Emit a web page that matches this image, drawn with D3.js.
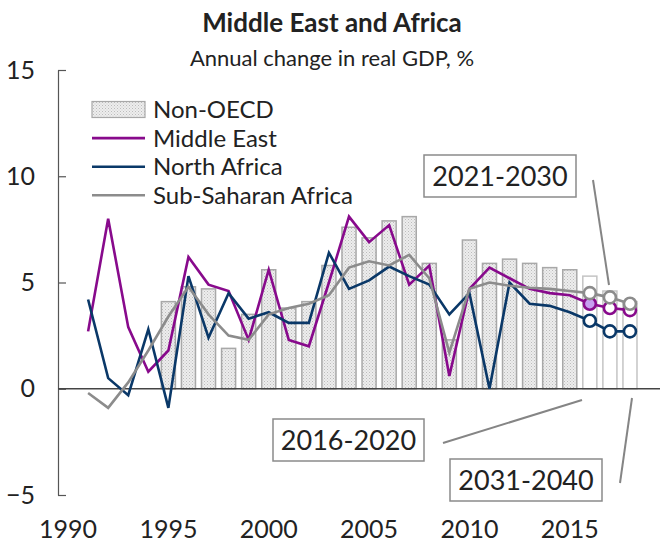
<!DOCTYPE html>
<html>
<head>
<meta charset="utf-8">
<script src="https://cdn.jsdelivr.net/npm/d3@7"></script>
<style>
  html, body { margin: 0; padding: 0; background: #fff; }
  svg { display: block; font-family: Lato, "Open Sans", sans-serif; }
</style>
</head>
<body>
<svg id="chart" width="660" height="545"></svg>
<script>
// Categories: yearly history, then three projection periods
const years = d3.range(1990, 2016).map(String);
const periods = ["2016-2020", "2021-2030", "2031-2040"];
const categories = years.concat(periods);

// Non-OECD growth (bars)
const nonOECD = [null, null, null, null, null,
  4.1, 4.8, 4.7, 1.9, 3.5, 5.6, 3.8, 4.1, 5.8, 7.6,
  7.1, 7.9, 8.1, 5.9, 2.3, 7.0, 5.9, 6.1, 5.9, 5.7, 5.6,
  5.3, 4.6, 4.1];

// Regional growth (lines)
const middleEast = [null,
  2.7, 8.0, 2.9, 0.8, 1.8, 6.2, 4.9, 4.6, 2.3, 5.6,
  2.3, 2.0, 5.0, 8.1, 6.9, 7.7, 4.9, 5.8, 0.6, 4.7,
  5.7, 5.2, 4.7, 4.5, 4.4,
  4.0, 3.8, 3.7];
const northAfrica = [null,
  4.2, 0.5, -0.3, 2.8, -0.9, 5.3, 2.4, 4.5, 3.3, 3.6,
  3.1, 3.1, 6.4, 4.7, 5.1, 5.75, 5.3, 4.9, 3.5, 4.5,
  0.0, 5.0, 4.0, 3.9, 3.6,
  3.2, 2.7, 2.7];
const subSaharan = [null,
  -0.2, -0.9, 0.3, 1.8, 3.4, 4.8, 3.5, 2.5, 2.3, 3.5,
  3.8, 4.0, 4.4, 5.7, 6.0, 5.8, 6.3, 5.2, 1.7, 4.7,
  5.0, 4.85, 4.75, 4.7, 4.6,
  4.5, 4.3, 4.0];

const yTicks = [-5, 0, 5, 10, 15];
const xTickLabels = ["1990", "1995", "2000", "2005", "2010", "2015"];

const seriesInfo = [
  { name: "Middle East", values: middleEast, color: "#880a8c", firstFill: "#c79ef0" },
  { name: "North Africa", values: northAfrica, color: "#0a3868", firstFill: "#fff" },
  { name: "Sub-Saharan Africa", values: subSaharan, color: "#8c8c8c", firstFill: "#fff" }
];

const svg = d3.select("#chart");
const textColor = "#222";

// Dotted fill for history bars
const defs = svg.append("defs");
const pat = defs.append("pattern").attr("id", "dots")
  .attr("width", 3).attr("height", 3).attr("patternUnits", "userSpaceOnUse");
pat.append("rect").attr("width", 3).attr("height", 3).attr("fill", "#ededed");
pat.append("rect").attr("width", 1).attr("height", 1).attr("fill", "#bcbcbc");
pat.append("rect").attr("x", 1.5).attr("y", 1.5).attr("width", 1).attr("height", 1).attr("fill", "#cccccc");

const x = d3.scaleBand().domain(categories).range([58, 640]).paddingInner(0.3).paddingOuter(0.15);
const xc = c => x(c) + x.bandwidth() / 2;
const y = d3.scaleLinear().domain([-5, 15]).range([495, 70]);

// Titles
svg.append("text").attr("x", 332).attr("y", 32).attr("text-anchor", "middle")
  .attr("font-size", 26).attr("font-weight", "bold").attr("fill", textColor)
  .text("Middle East and Africa");
svg.append("text").attr("x", 332).attr("y", 66).attr("text-anchor", "middle")
  .attr("font-size", 22).attr("fill", textColor)
  .text("Annual change in real GDP, %");

// Bars
const barData = categories.map((c, i) => ({ c, v: nonOECD[i], proj: i >= years.length }))
  .filter(d => d.v !== null);
svg.append("g").selectAll("rect").data(barData).join("rect")
  .attr("x", d => x(d.c))
  .attr("width", x.bandwidth())
  .attr("y", d => y(Math.max(0, d.v)))
  .attr("height", d => Math.abs(y(d.v) - y(0)))
  .attr("fill", d => d.proj ? "#fff" : "url(#dots)")
  .attr("stroke", d => d.proj ? "#c4c4c4" : "#a8a8a8")
  .attr("stroke-width", 1.5);

// Y axis
const yAxis = d3.axisLeft(y).tickValues(yTicks).tickSize(-8).tickSizeOuter(0).tickPadding(23);
const gy = svg.append("g").attr("transform", "translate(58,0)").call(yAxis);
gy.select(".domain").attr("stroke", "#555").attr("stroke-width", 1.2);
gy.selectAll(".tick line").attr("stroke", "#555").attr("stroke-width", 1.2);
gy.selectAll(".tick text").attr("font-size", 25).attr("fill", textColor)
  .attr("font-family", "Lato, sans-serif");

// Zero line
svg.append("line").attr("x1", 58).attr("x2", 660).attr("y1", y(0)).attr("y2", y(0))
  .attr("stroke", "#444").attr("stroke-width", 1.3);

// X labels at the bottom
const xAxis = d3.axisBottom(x).tickValues(xTickLabels).tickSize(0).tickPadding(0);
const gx = svg.append("g").attr("transform", "translate(0,520)").call(xAxis);
gx.select(".domain").remove();
gx.selectAll(".tick text").attr("font-size", 25).attr("fill", textColor)
  .attr("font-family", "Lato, sans-serif");

// Lines and projection markers
const line = d3.line().defined(d => d.v !== null).x(d => xc(d.c)).y(d => y(d.v));
seriesInfo.forEach(s => {
  const pts = categories.map((c, i) => ({ c, v: s.values[i], proj: i >= years.length, first: i === years.length }));
  svg.append("path").datum(pts).attr("d", line)
    .attr("fill", "none").attr("stroke", s.color).attr("stroke-width", 2.6)
    .attr("stroke-linejoin", "miter");
  svg.append("g").selectAll("circle").data(pts.filter(d => d.proj)).join("circle")
    .attr("cx", d => xc(d.c)).attr("cy", d => y(d.v)).attr("r", 6)
    .attr("fill", d => d.first ? s.firstFill : "#fff")
    .attr("stroke", s.color).attr("stroke-width", 2.6);
});

// Legend
const legend = svg.append("g");
const legendRows = [{ name: "Non-OECD", bar: true }].concat(seriesInfo);
legendRows.forEach((r, i) => {
  const cy = 109.5 + i * 28.6;
  if (r.bar) {
    legend.append("rect").attr("x", 92).attr("y", cy - 8).attr("width", 53).attr("height", 16)
      .attr("fill", "url(#dots)").attr("stroke", "#a8a8a8").attr("stroke-width", 1.2);
  } else {
    legend.append("line").attr("x1", 92).attr("x2", 145).attr("y1", cy).attr("y2", cy)
      .attr("stroke", r.color).attr("stroke-width", 2.6);
  }
  legend.append("text").attr("x", 153).attr("y", cy).attr("dy", "0.35em")
    .attr("font-size", 24).attr("fill", textColor).text(r.name);
});

// Period callouts
const callouts = [
  { label: periods[0], bx: 273, by: 419, bw: 151, bh: 42, from: [443, 443], to: [582, 400] },
  { label: periods[1], bx: 424, by: 155, bw: 152, bh: 42, from: [593, 180], to: [609, 285] },
  { label: periods[2], bx: 450, by: 459, bw: 152, bh: 42, from: [620, 483], to: [632, 398] }
];
callouts.forEach(cl => {
  svg.append("line").attr("x1", cl.from[0]).attr("y1", cl.from[1])
    .attr("x2", cl.to[0]).attr("y2", cl.to[1])
    .attr("stroke", "#858585").attr("stroke-width", 2);
  svg.append("rect").attr("x", cl.bx).attr("y", cl.by).attr("width", cl.bw).attr("height", cl.bh)
    .attr("fill", "#fff").attr("stroke", "#8a8a8a").attr("stroke-width", 1.5);
  svg.append("text").attr("x", cl.bx + cl.bw / 2).attr("y", cl.by + cl.bh / 2).attr("dy", "0.36em")
    .attr("text-anchor", "middle").attr("font-size", 27).attr("fill", textColor).text(cl.label);
});
</script>
</body>
</html>
